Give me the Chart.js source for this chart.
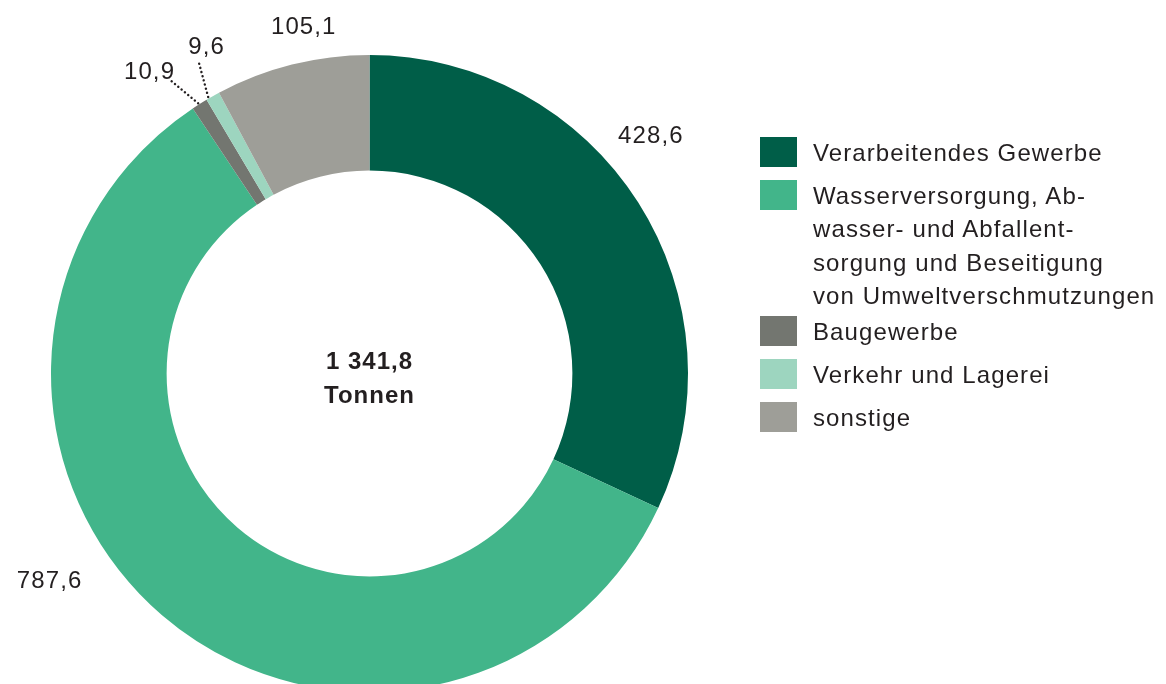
<!DOCTYPE html>
<html>
<head>
<meta charset="utf-8">
<script src="https://cdn.jsdelivr.net/npm/chart.js@4/dist/chart.umd.min.js"></script>
<style>
  html, body { margin: 0; padding: 0; background: #fff; overflow: hidden; width: 1166px; height: 684px; }
  #wrap { position: relative; width: 1166px; height: 684px; overflow: hidden; }
  canvas { position: absolute; left: 0; top: 0; }
  #legend { position: absolute; left: 760px; top: 137px; font-family: "Liberation Sans", Arial, sans-serif; font-size: 24px; letter-spacing: 1.1px; color: #231f20; }
  .item { position: relative; padding-left: 53px; line-height: 33.5px; }
  .item .txt { position: relative; top: -1.5px; }
  .sw { position: absolute; left: 0; top: 0; width: 37px; height: 30px; }
</style>
</head>
<body>
<div id="wrap">
  <canvas id="c" width="1166" height="750"></canvas>
  <div id="legend"></div>
</div>
<script>
const categories = [
  "Verarbeitendes Gewerbe",
  "Wasserversorgung, Ab-\nwasser- und Abfallent-\nsorgung und Beseitigung\nvon Umweltverschmutzungen",
  "Baugewerbe",
  "Verkehr und Lagerei",
  "sonstige"
];
const values = [428.6, 787.6, 10.9, 9.6, 105.1];
const valueLabels = ["428,6", "787,6", "10,9", "9,6", "105,1"];
const totalLabel = ["1 341,8", "Tonnen"];
const colors = ["#005e48", "#42b58a", "#737670", "#9dd5bf", "#9e9e98"];

// label placement: angle (deg, clockwise from top) and radius factor relative to outer radius
const labelPos = [
  { a: 49.6, r: 1.16 },
  { a: 237.2, r: 1.195 },
  { a: 324.0, r: 1.175, leader: { a: 325.9, r: 1.108, tip: 0.5 } },
  { a: 333.6, r: 1.15, leader: { a: 331.2, r: 1.11, tip: 0.15 } },
  { a: 349.3, r: 1.112 }
];

// legend
const legend = document.getElementById('legend');
categories.forEach((c, i) => {
  const d = document.createElement('div');
  d.className = 'item';
  const lines = c.split('\n');
  d.style.marginBottom = lines.length > 1 ? '2px' : '9.5px';
  const s = document.createElement('div');
  s.className = 'sw';
  s.style.background = colors[i];
  d.appendChild(s);
  const tx = document.createElement('div');
  tx.className = 'txt';
  lines.forEach(line => {
    const t = document.createElement('div');
    t.textContent = line;
    tx.appendChild(t);
  });
  d.appendChild(tx);
  legend.appendChild(d);
});

const labelPlugin = {
  id: 'labels',
  afterDraw(chart) {
    const ctx = chart.ctx;
    const meta = chart.getDatasetMeta(0);
    const arc0 = meta.data[0];
    const cx = arc0.x, cy = arc0.y, R = arc0.outerRadius;
    const capHalf = 24 * 0.716 / 2;
    ctx.save();
    ctx.fillStyle = '#231f20';
    ctx.textAlign = 'center';
    ctx.textBaseline = 'alphabetic';
    ctx.font = '24px "Liberation Sans", Arial, sans-serif';
    if ('letterSpacing' in ctx) ctx.letterSpacing = '1.1px';
    meta.data.forEach((arc, i) => {
      const p = labelPos[i];
      const ang = p.a * Math.PI / 180;
      const x = cx + R * p.r * Math.sin(ang);
      const y = cy - R * p.r * Math.cos(ang);
      ctx.fillText(valueLabels[i], x, y + capHalf);
      if (p.leader) {
        const t = arc.startAngle + (arc.endAngle - arc.startAngle) * p.leader.tip;
        const x1 = cx + (R - 1) * Math.cos(t), y1 = cy + (R - 1) * Math.sin(t);
        const la = p.leader.a * Math.PI / 180;
        const x2 = cx + R * p.leader.r * Math.sin(la), y2 = cy - R * p.leader.r * Math.cos(la);
        ctx.save();
        ctx.strokeStyle = '#231f20';
        ctx.lineWidth = 2.4;
        ctx.lineCap = 'round';
        ctx.setLineDash([0.1, 4.2]);
        ctx.beginPath();
        ctx.moveTo(x2, y2);
        ctx.lineTo(x1, y1);
        ctx.stroke();
        ctx.restore();
      }
    });
    ctx.font = 'bold 24px "Liberation Sans", Arial, sans-serif';
    if ('letterSpacing' in ctx) ctx.letterSpacing = '1px';
    ctx.fillText(totalLabel[0], cx, cy - 13 + capHalf);
    ctx.fillText(totalLabel[1], cx, cy + 21 + capHalf);
    ctx.restore();
  }
};

new Chart(document.getElementById('c'), {
  type: 'doughnut',
  data: {
    labels: categories,
    datasets: [{
      data: values,
      backgroundColor: colors,
      borderWidth: 0
    }]
  },
  options: {
    responsive: false,
    animation: false,
    cutout: '63.7%',
    layout: { padding: { left: 51, right: 478, top: 55, bottom: 58 } },
    plugins: { legend: { display: false }, tooltip: { enabled: false } }
  },
  plugins: [labelPlugin]
});
</script>
</body>
</html>
